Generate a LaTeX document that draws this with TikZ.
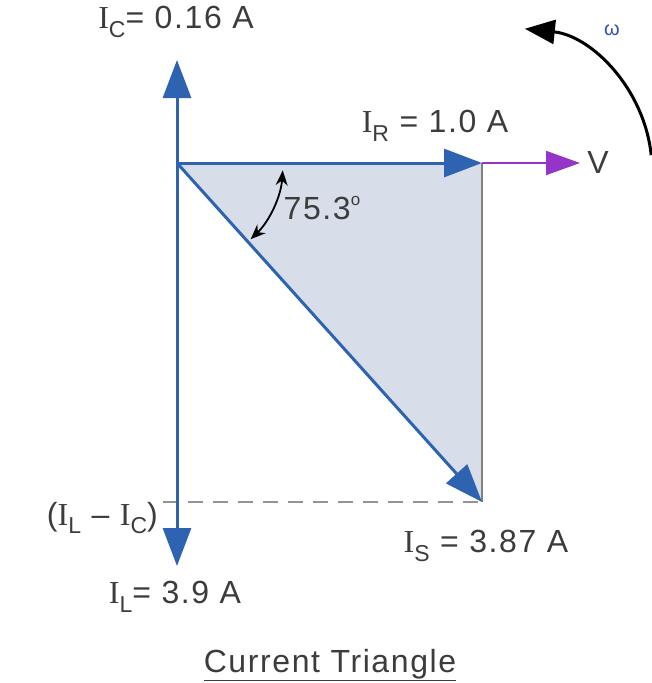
\documentclass[tikz,border=0pt]{standalone}
\usepackage{fontspec}
\setmainfont{Liberation Sans}[LetterSpace=5]
\newfontfamily\serifI{Liberation Serif}
\usetikzlibrary{arrows.meta}
\definecolor{vblue}{RGB}{46,99,178}
\definecolor{vpurple}{RGB}{148,52,200}
\definecolor{fillc}{RGB}{215,222,234}
\definecolor{txt}{RGB}{60,60,60}
\definecolor{wblue}{RGB}{50,80,180}
\newcommand{\Isub}[1]{{\serifI I}\raisebox{-0.28em}{\fontsize{23}{23}\selectfont #1}}
\begin{document}
\begin{tikzpicture}[x=1pt,y=-1pt,
  vec/.style={draw=vblue,line width=3pt,-{Triangle[length=38pt,width=28pt]}},
  lbl/.style={text=txt,font=\fontsize{32}{33}\selectfont,inner sep=0pt}]
\useasboundingbox (0,0) rectangle (652,683);
\coordinate (O) at (177,163);
\coordinate (R) at (482,163);
\coordinate (S) at (482,502);
\coordinate (T) at (177,60);
\coordinate (B) at (177,566);
\coordinate (Vend) at (580,163);
\coordinate (D) at (163,502);
\fill[fillc] (O) -- (R) -- (S) -- cycle;
\draw[gray,line width=2pt] (R) -- (S);
\draw[gray!85,line width=2pt,dash pattern=on 15pt off 10pt] (D) -- (S);
\draw[vpurple,line width=2pt,-{Triangle[length=34pt,width=24pt]}] (R) -- (Vend);
\draw[vec] (O) -- (T);
\draw[vec] (O) -- (B);
\draw[vec] (O) -- (R);
\draw[vec] (O) -- (S);
\draw[black,line width=1.8pt,{Stealth[length=15pt,width=12pt]}-{Stealth[length=15pt,width=12pt]}]
  ([shift={(4:106)}]O) arc[start angle=4,end angle=46,radius=106];
\draw[black,line width=3pt,-{Triangle[length=30pt,width=24pt]}]
  ([shift={(-6:142)}]510,170) arc[start angle=-6,end angle=-84,radius=142];
\node[lbl] (ic) at (176,22) {\Isub{C}= 0.16 A};
\node[lbl] (ir) at (435,126) {\Isub{R} = 1.0 A};
\node[lbl] (v) at (598,162) {V};
\node[text=wblue,font=\fontsize{20}{20}\selectfont,inner sep=0pt] (w) at (612,30) {ω};
\node[lbl] (ang) at (322,208) {75.3\raisebox{0.45em}{\fontsize{17}{17}\selectfont o}};
\node[lbl,anchor=east] (ilc) at (158,518) {(\Isub{L} -- \Isub{C})};
\node[lbl] (is) at (486,546) {\Isub{S} = 3.87 A};
\node[lbl] (il) at (175,597) {\Isub{L}= 3.9 A};
\node[lbl] (title) at (330,665) {\underline{Current Triangle}};
\end{tikzpicture}
\end{document}
